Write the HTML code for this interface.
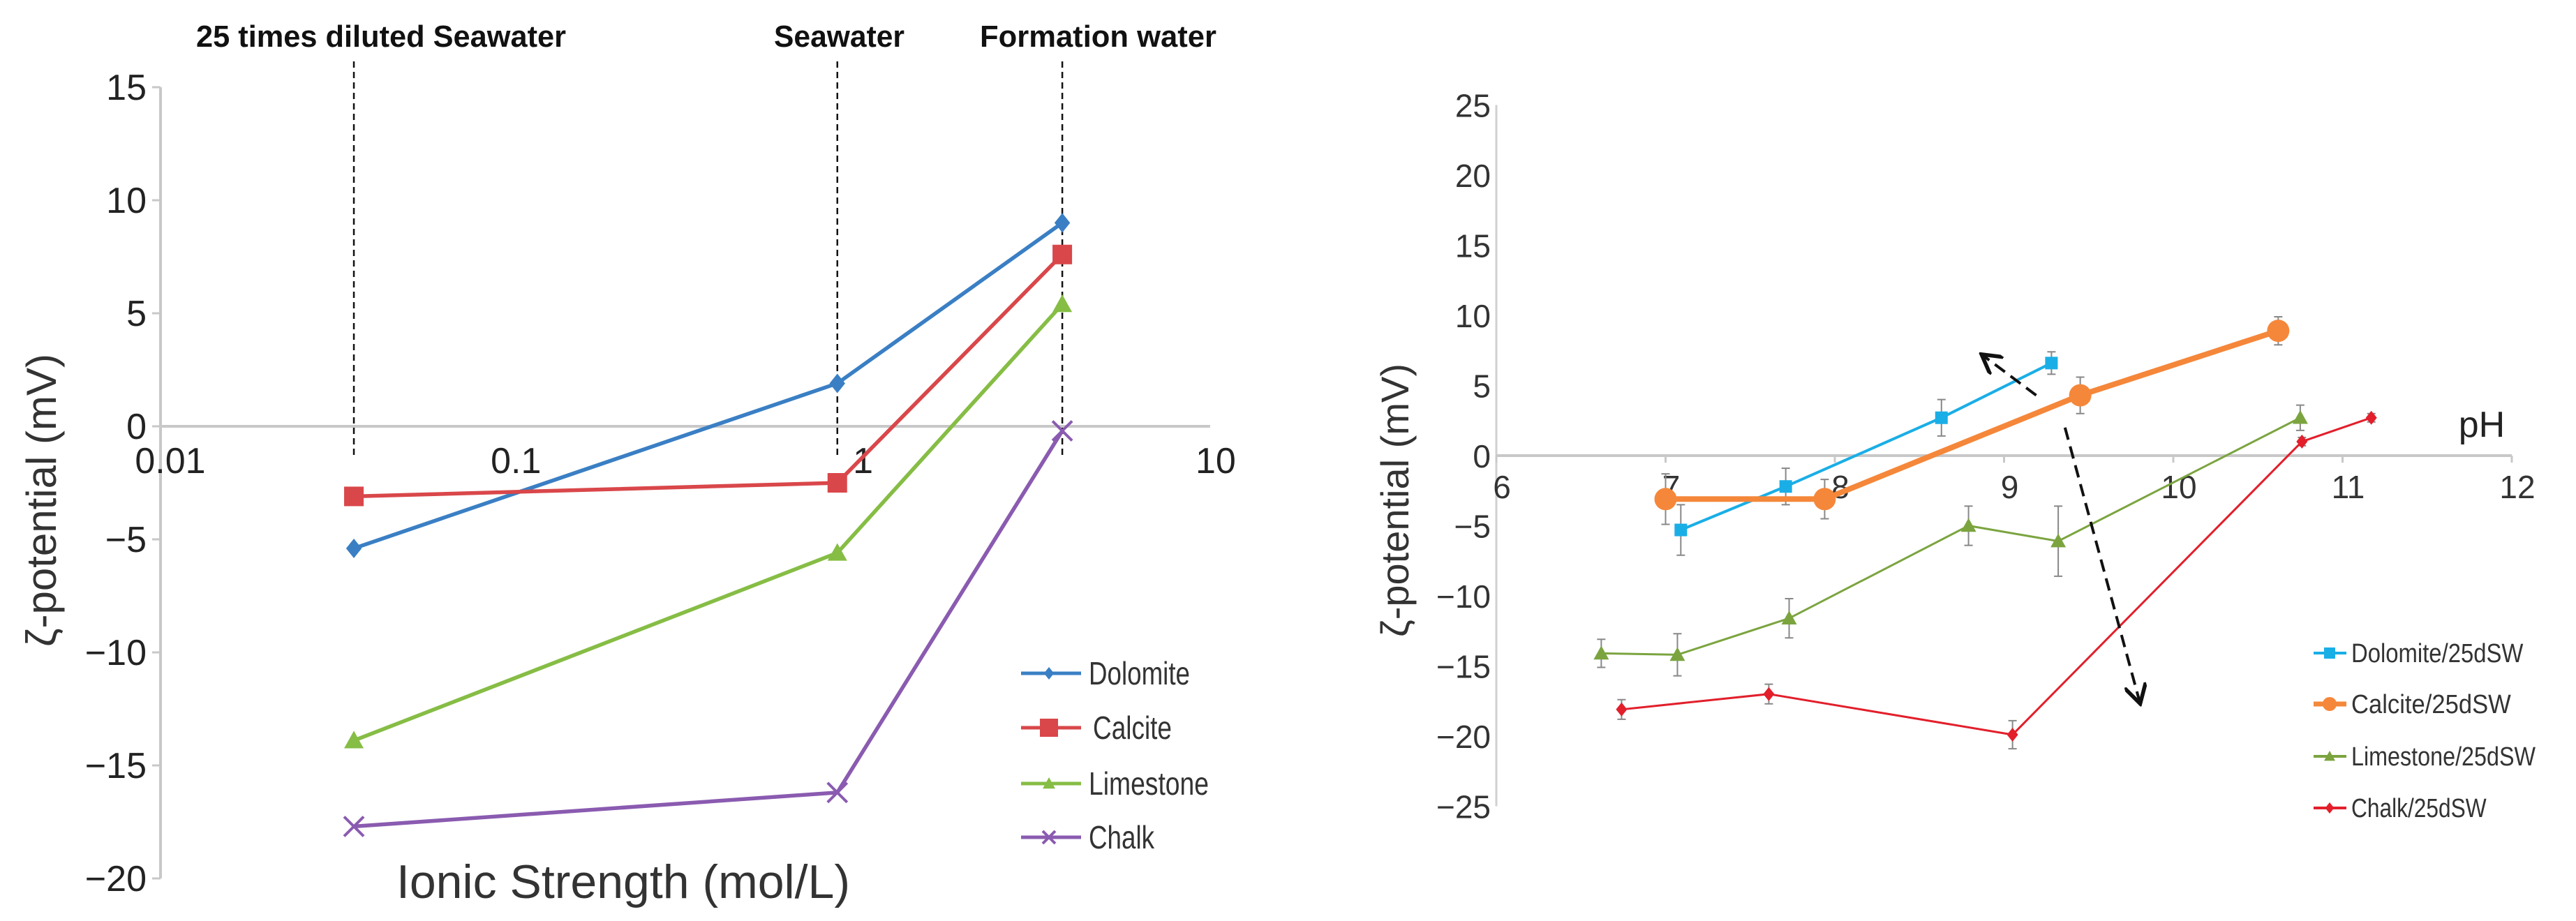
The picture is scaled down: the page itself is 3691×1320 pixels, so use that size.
<!DOCTYPE html>
<html><head><meta charset="utf-8"><style>
html,body{margin:0;padding:0;background:#fff;}
svg{display:block;font-family:"Liberation Sans",sans-serif;}
</style></head><body>
<svg id="chart" width="3691" height="1320" viewBox="0 0 3691 1320" xmlns="http://www.w3.org/2000/svg">
<g id="left"></g>
<g id="right"></g>
</svg>
<script>
// ---- Left chart data ----
const leftSeriesNames = ["Dolomite","Calcite","Limestone","Chalk"];
const leftX = [0.0357, 0.86, 3.78];
const dolomiteL = [-5.4, 1.9, 9.0];
const calciteL = [-3.1, -2.5, 7.6];
const limestoneL = [-13.9, -5.6, 5.4];
const chalkL = [-17.7, -16.2, -0.2];
const leftYTicks = [15,10,5,0,-5,-10,-15,-20];
const leftXTicks = [0.01,0.1,1,10];
const leftXTickLabels = ["0.01","0.1","1","10"];

// ---- Right chart data ----
const rightSeriesNames = ["Dolomite/25dSW","Calcite/25dSW","Limestone/25dSW","Chalk/25dSW"];
const dolomitePH = [7.09, 7.71, 8.63, 9.28];
const dolomiteR = [-5.3, -2.2, 2.7, 6.6];
const dolomiteErr = [1.8, 1.3, 1.3, 0.8];
const calcitePH = [7.0, 7.94, 9.45, 10.62];
const calciteR = [-3.1, -3.1, 4.3, 8.9];
const calciteErr = [1.8, 1.4, 1.3, 1.0];
const limestonePH = [6.62, 7.07, 7.73, 8.79, 9.32, 10.75];
const limestoneR = [-14.1, -14.2, -11.6, -5.0, -6.1, 2.7];
const limestoneErr = [1.0, 1.5, 1.4, 1.4, 2.5, 0.9];
const chalkPH = [6.74, 7.61, 9.05, 10.76, 11.17];
const chalkR = [-18.1, -17.0, -19.9, 1.0, 2.7];
const chalkErr = [0.7, 0.7, 1.0, 0.3, 0.3];
const rightYTicks = [25,20,15,10,5,0,-5,-10,-15,-20,-25];
const rightXTicks = [6,7,8,9,10,11,12];
const arrowUp = [[9.19,4.3],[8.88,7.1]];
const arrowDown = [[9.36,2.0],[9.80,-17.5]];

const NS="http://www.w3.org/2000/svg";
function mk(parent,tag,attrs,text){const e=document.createElementNS(NS,tag);for(const k in attrs)e.setAttribute(k,attrs[k]);if(text!==undefined)e.textContent=text;parent.appendChild(e);return e;}

// ===== LEFT =====
const L=document.getElementById('left');
const lx=v=>230+(Math.log10(v)+2)*501.3;
const ly=v=>611-v*32.4;
let e;
e=mk(L,'line',{x1:230,y1:ly(15),x2:230,y2:ly(-20),stroke:'#c8c8c8','stroke-width':4});


e=mk(L,'line',{x1:230,y1:ly(0),x2:lx(10),y2:ly(0),stroke:'#c8c8c8','stroke-width':4});


leftYTicks.forEach(t=>{
  mk(L,'line',{x1:218,y1:ly(t),x2:230,y2:ly(t),stroke:'#c8c8c8','stroke-width':3});
  e=mk(L,'text',{x:210,y:ly(t)+18,'text-anchor':'end','font-size':52,fill:'#222'},t<0?'−'+(-t):String(t));
  
  
});
leftXTicks.forEach((t,i)=>{
  e=mk(L,'text',{x:lx(t)+(i==0?14:i==2?4:8),y:678,'text-anchor':'middle','font-size':52,fill:'#222'},leftXTickLabels[i]);
  
  
});
leftX.forEach((v,i)=>{
  e=mk(L,'line',{x1:lx(v),y1:88,x2:lx(v),y2:ly(0)+45,stroke:'#111','stroke-width':2.5,'stroke-dasharray':'9,6'});
  
  
});
[["25 times diluted  Seawater",281,811],["Seawater",1109,1296],["Formation  water",1404,1743]].forEach(a=>{
  e=mk(L,'text',{x:a[1],y:67,'font-size':44,'font-weight':'bold',fill:'#111',textLength:a[2]-a[1],lengthAdjust:'spacingAndGlyphs'},a[0]);
  
  
});
e=mk(L,'text',{x:0,y:0,'font-size':60,fill:'#333','text-anchor':'middle',transform:'translate(80,717) rotate(-90)'},'ζ-potential (mV)');


e=mk(L,'text',{x:893,y:1287,'font-size':68,fill:'#333','text-anchor':'middle'},'Ionic Strength (mol/L)');



const lcols=['#3a7fc4','#d9474a','#86bd45','#8a5bb0'];
const ldata=[dolomiteL,calciteL,limestoneL,chalkL];
const shapes=['diamond','square','triangle','cross'];
function marker(g,s,x,y,c,sz){
  if(s=='diamond')return mk(g,'polygon',{points:`${x},${y-sz} ${x+sz*0.8},${y} ${x},${y+sz} ${x-sz*0.8},${y}`,fill:c});
  if(s=='square')return mk(g,'rect',{x:x-sz,y:y-sz,width:2*sz,height:2*sz,fill:c});
  if(s=='triangle')return mk(g,'polygon',{points:`${x},${y-sz} ${x+sz},${y+sz*0.8} ${x-sz},${y+sz*0.8}`,fill:c});
  if(s=='circle')return mk(g,'circle',{cx:x,cy:y,r:sz,fill:c});
  return mk(g,'path',{d:`M${x-sz},${y-sz}L${x+sz},${y+sz}M${x-sz},${y+sz}L${x+sz},${y-sz}`,stroke:c,'stroke-width':4,fill:'none'});
}
ldata.forEach((arr,si)=>{
  const g=mk(L,'g',{});
  
  
  mk(g,'polyline',{points:arr.map((v,i)=>lx(leftX[i])+','+ly(v)).join(' '),fill:'none',stroke:lcols[si],'stroke-width':5.5});
  arr.forEach((v,i)=>{
    const m=marker(g,shapes[si],lx(leftX[i]),ly(v),lcols[si],14);
    
    
  });
});
const legYL=[965,1043,1123,1200];
const legWL=[145,113,172,94];
leftSeriesNames.forEach((n,i)=>{
  const g=mk(L,'g',{});
  
  
  mk(g,'line',{x1:1463,y1:legYL[i],x2:1549,y2:legYL[i],stroke:lcols[i],'stroke-width':5});
  marker(g,shapes[i],1503,legYL[i],lcols[i],i==1?13:9);
  mk(g,'text',{x:i==1?1566:1560,y:legYL[i]+16,'font-size':46,fill:'#333',textLength:legWL[i],lengthAdjust:'spacingAndGlyphs'},n);
});

// ===== RIGHT =====
const R=document.getElementById('right');
const rx=v=>2144+(v-6)*242.5;
const ry=v=>653-v*20.1;
e=mk(R,'line',{x1:2144,y1:ry(25),x2:2144,y2:ry(-25),stroke:'#d0d0d0','stroke-width':3});


e=mk(R,'line',{x1:2144,y1:ry(0),x2:rx(12),y2:ry(0),stroke:'#c8c8c8','stroke-width':4});


rightYTicks.forEach(t=>{
  e=mk(R,'text',{x:2136,y:ry(t)+17,'text-anchor':'end','font-size':46,fill:'#333'},t<0?'−'+(-t):String(t));
  
  
});
rightXTicks.forEach(t=>{
  mk(R,'line',{x1:rx(t),y1:ry(0),x2:rx(t),y2:ry(0)+10,stroke:'#c8c8c8','stroke-width':3});
  e=mk(R,'text',{x:rx(t)+8,y:714,'text-anchor':'middle','font-size':46,fill:'#333'},String(t));
  
  
});
e=mk(R,'text',{x:3556,y:626,'font-size':52,fill:'#222','text-anchor':'middle'},'pH');


e=mk(R,'text',{x:0,y:0,'font-size':56,fill:'#333','text-anchor':'middle',transform:'translate(2018,717) rotate(-90)'},'ζ-potential (mV)');



const rcols=['#1aaee6','#f5873a','#7ba43f','#e21f2b'];
const rws=[4,8,3,3];
const rX=[dolomitePH,calcitePH,limestonePH,chalkPH];
const rY=[dolomiteR,calciteR,limestoneR,chalkR];
const rE=[dolomiteErr,calciteErr,limestoneErr,chalkErr];
const rshapes=['square','circle','triangle','diamond'];
const rsz=[9,16,11,10];
rX.forEach((xs,si)=>{
  const g=mk(R,'g',{});
  
  
  xs.forEach((x,i)=>{
    const X=rx(x),y1=ry(rY[si][i]+rE[si][i]),y2=ry(rY[si][i]-rE[si][i]);
    mk(g,'path',{d:`M${X},${y1}V${y2}M${X-6},${y1}H${X+6}M${X-6},${y2}H${X+6}`,stroke:'#888','stroke-width':2,fill:'none'});
  });
  mk(g,'polyline',{points:xs.map((x,i)=>rx(x)+','+ry(rY[si][i])).join(' '),fill:'none',stroke:rcols[si],'stroke-width':rws[si]});
  xs.forEach((x,i)=>{
    const m=marker(g,rshapes[si],rx(x),ry(rY[si][i]),rcols[si],rsz[si]);
    
    
  });
});
mk(document.getElementById('chart'),'defs',{}).innerHTML='<marker id="ah" markerWidth="8" markerHeight="8" refX="6" refY="4" orient="auto" markerUnits="strokeWidth"><path d="M0,0L7,4L0,8" fill="none" stroke="#111" stroke-width="1.4"/></marker>';
[arrowUp,arrowDown].forEach((a,i)=>{
  e=mk(R,'line',{x1:rx(a[0][0]),y1:ry(a[0][1]),x2:rx(a[1][0]),y2:ry(a[1][1]),stroke:'#111','stroke-width':4,'stroke-dasharray':'18,10','marker-end':'url(#ah)'});
  
  
});
const legYR=[936,1009,1084,1158];
rightSeriesNames.forEach((n,i)=>{
  const g=mk(R,'g',{});
  
  
  mk(g,'line',{x1:3315,y1:legYR[i],x2:3362,y2:legYR[i],stroke:rcols[i],'stroke-width':i==1?7:4});
  marker(g,rshapes[i],3338,legYR[i],rcols[i],i==1?10:8);
  mk(g,'text',{x:3369,y:legYR[i]+13,'font-size':38,fill:'#333',textLength:n.length*17.6,lengthAdjust:'spacingAndGlyphs'},n);
});
</script>
</body></html>
